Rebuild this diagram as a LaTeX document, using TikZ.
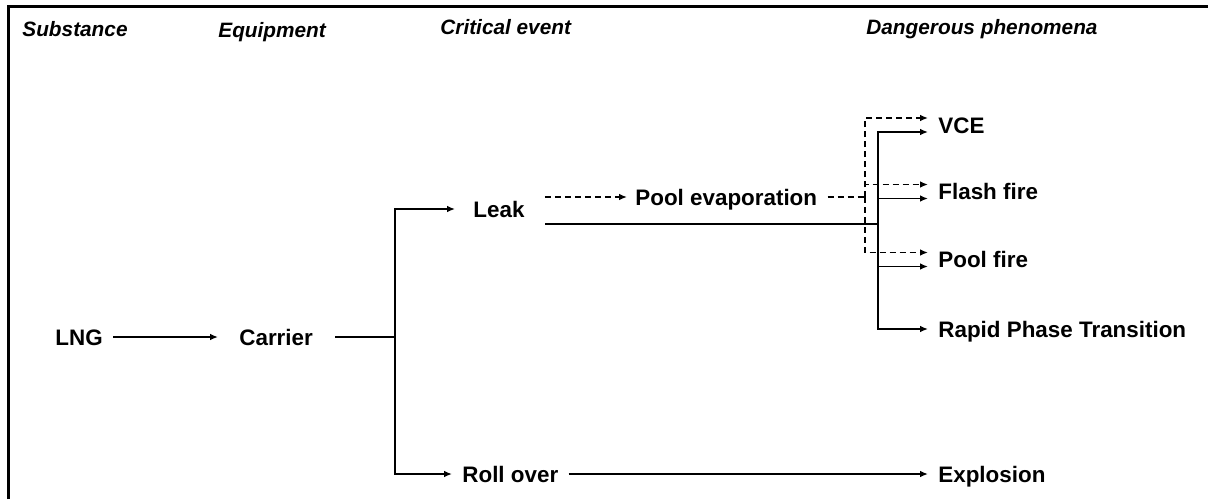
\documentclass[tikz,border=0pt]{standalone}
\usepackage{fontspec}
\setmainfont{Liberation Sans}
\usetikzlibrary{arrows.meta}

\begin{document}
\begin{tikzpicture}[x=0.5pt, y=-0.5pt,
      lbl/.style={anchor=west, inner sep=0pt, text height=8pt, text depth=0pt,
                  font=\fontsize{11.2}{13}\selectfont\bfseries},
      hdr/.style={anchor=west, inner sep=0pt, text height=7.5pt, text depth=0pt,
                  font=\fontsize{10.4}{12}\selectfont\bfseries\itshape},
      ln/.style={line width=0.9pt},
      arr/.style={ln, -{Latex[length=4pt,width=3.4pt]}},
      dsh/.style={ln, dash pattern=on 3pt off 2pt},
      darr/.style={dsh, -{Latex[length=4pt,width=3.4pt]}}]
    \useasboundingbox (0,0) rectangle (1208,499);
    \draw[line width=1.5pt] (8,499) -- (8,6.5) -- (1208,6.5);
    % column headers
    \node[hdr] (hsub) at (22,29) {Substance};
    \node[hdr] (hequ) at (218,30) {Equipment};
    \node[hdr] (hcrit) at (440,27) {Critical event};
    \node[hdr] (hdang) at (866,27) {Dangerous phenomena};
    % events
    \node[lbl] (lng) at (55,337) {LNG};
    \node[lbl] (carrier) at (239,337) {Carrier};
    \node[lbl] (leak) at (473,209) {Leak};
    \node[lbl] (evap) at (635,197) {Pool evaporation};
    \node[lbl] (roll) at (462,474) {Roll over};
    \node[lbl] (vce) at (938,125) {VCE};
    \node[lbl] (flash) at (938,191.5) {Flash fire};
    \node[lbl] (pool) at (938,259.5) {Pool fire};
    \node[lbl] (rpt) at (938,329) {Rapid Phase Transition};
    \node[lbl] (expl) at (938,474) {Explosion};
    \coordinate (jc) at (395,337);
    \coordinate (jd) at (865,197);
    \coordinate (js) at (878,224);
    % connectors
    \draw[arr] ([xshift=5pt]lng.east) -- ([xshift=-10.5pt]carrier.west);
    \draw[ln] ([xshift=11pt]carrier.east) -- (jc);
    \draw[arr] (jc) |- ([xshift=-9pt]leak.west);
    \draw[arr] (jc) |- ([xshift=-5pt]roll.west);
    \draw[darr] ([xshift=10pt]leak.east |- evap.west) -- ([xshift=-4pt]evap.west);
    \draw[dsh] ([xshift=5pt]evap.east) -- (jd);
    \draw[darr] (jd) |- ([xshift=-5pt,yshift=3.5pt]vce.west);
    \draw[darr] (jd) |- ([xshift=-5pt,yshift=3.5pt]flash.west);
    \draw[darr] (jd) |- ([xshift=-5pt,yshift=3.5pt]pool.west);
    \draw[ln, shorten >=10pt] (js) -- (js -| leak.east);
    \draw[arr] (js) |- ([xshift=-5pt,yshift=-3.5pt]vce.west);
    \draw[arr] (js) |- ([xshift=-5pt,yshift=-3.5pt]flash.west);
    \draw[arr] (js) |- ([xshift=-5pt,yshift=-3.5pt]pool.west);
    \draw[arr] (js) |- ([xshift=-5pt]rpt.west);
    \draw[arr] ([xshift=5pt]roll.east) -- ([xshift=-5pt]expl.west);
  \end{tikzpicture}
\end{document}
